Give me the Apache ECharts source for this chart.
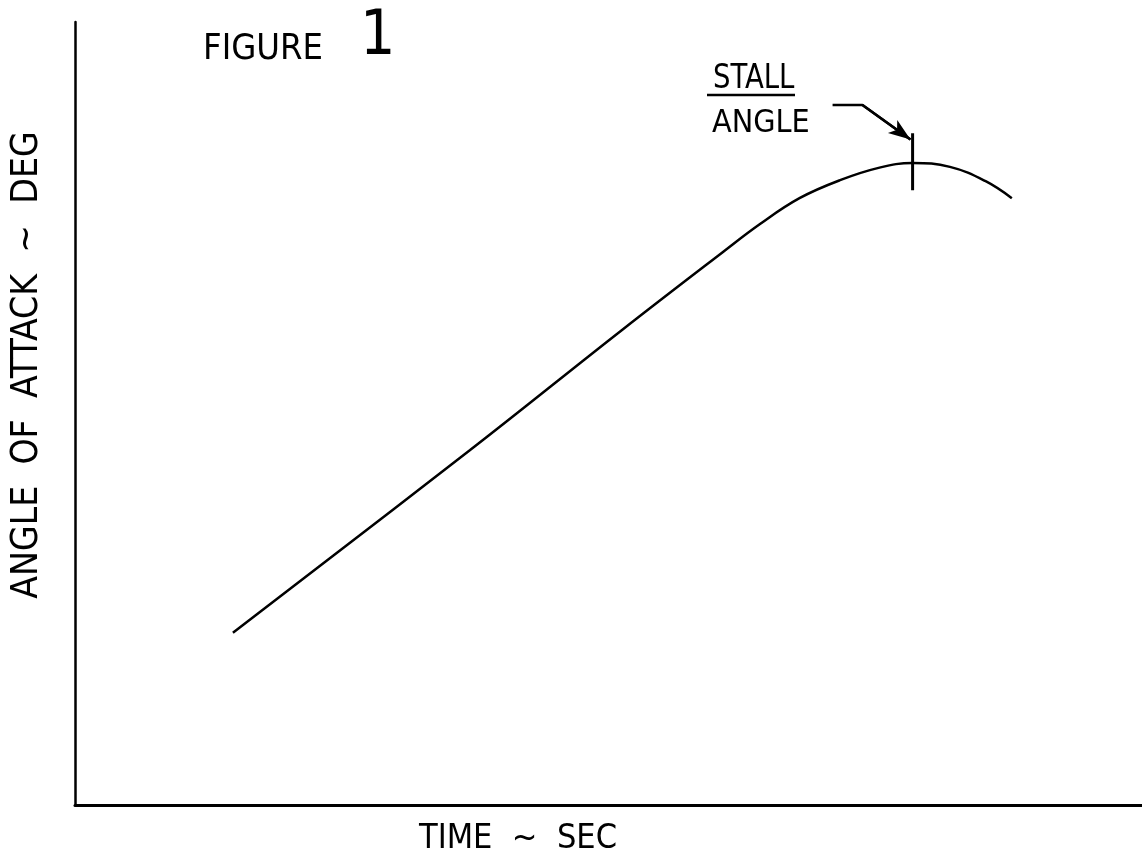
<!DOCTYPE html>
<html>
<head>
<meta charset="utf-8">
<title>Figure 1</title>
<script src="https://cdn.jsdelivr.net/npm/echarts@6/dist/echarts.min.js"></script>
<style>
  html, body { margin: 0; padding: 0; background: #fff; }
  #chart { width: 1142px; height: 855px; }
</style>
</head>
<body>
<div id="chart"></div>
<script>
// curve (time, angle) in arbitrary units 0..100
var timeSec = [14.8, 37.0, 51.3, 60.7, 64.2, 67.9, 71.7, 75.4, 78.5, 82.0, 85.3, 87.8];
var angleDeg = [22.0, 45.3, 60.7, 70.6, 74.2, 77.5, 79.8, 81.4, 82.0, 81.5, 79.7, 77.5];

// stall angle marker + pointer
var stallTime = 78.5;
var stallTick = [78.5, 85.8];
var pointerTime = [71.0, 73.8, 78.3];
var pointerAngle = [89.4, 89.4, 85.0];

var font = '"DejaVu Sans Condensed", "DejaVu Sans", sans-serif';

function pairs(xs, ys) {
    return xs.map(function (x, i) { return [x, ys[i]]; });
}

var chart = echarts.init(document.getElementById('chart'));

chart.setOption({
    backgroundColor: '#fff',
    animation: false,
    grid: { left: 75, right: 0, top: 22, bottom: 50 },
    xAxis: {
        type: 'value', min: 0, max: 100,
        axisLine: { show: true, lineStyle: { color: '#000', width: 3 } },
        axisTick: { show: false }, axisLabel: { show: false }, splitLine: { show: false }
    },
    yAxis: {
        type: 'value', min: 0, max: 100,
        axisLine: { show: true, lineStyle: { color: '#000', width: 2.5 } },
        axisTick: { show: false }, axisLabel: { show: false }, splitLine: { show: false }
    },
    series: [
        {
            name: 'angle',
            type: 'line',
            smooth: 0.4,
            showSymbol: false,
            data: pairs(timeSec, angleDeg),
            lineStyle: { color: '#000', width: 2.5 }
        },
        {
            name: 'stall tick',
            type: 'line',
            showSymbol: false,
            data: [[stallTime, stallTick[0]], [stallTime, stallTick[1]]],
            lineStyle: { color: '#000', width: 3 }
        },
        {
            name: 'pointer',
            type: 'line',
            showSymbol: false,
            data: pairs(pointerTime, pointerAngle),
            lineStyle: { color: '#000', width: 2.5 },
            markLine: {
                silent: true,
                symbol: ['none', 'arrow'],
                symbolSize: [12, 22],
                label: { show: false },
                lineStyle: { color: '#000', width: 2.5, type: 'solid' },
                data: [[
                    { coord: [pointerTime[1], pointerAngle[1]] },
                    { coord: [pointerTime[2], pointerAngle[2]] }
                ]]
            }
        }
    ],
    graphic: [
        { type: 'text', x: 203, y: 50, style: { text: 'FIGURE', font: '36px ' + font, fill: '#000', textVerticalAlign: 'middle' } },
        { type: 'text', x: 360, y: 38, style: { text: '1', font: '62px ' + font, fill: '#000', textVerticalAlign: 'middle' } },
        { type: 'text', x: 713, y: 79, scaleX: 0.9, style: { text: 'STALL', font: '34px ' + font, fill: '#000', textVerticalAlign: 'middle' } },
        { type: 'line', shape: { x1: 707, y1: 95, x2: 795, y2: 95 }, style: { stroke: '#000', lineWidth: 2.5 } },
        { type: 'text', x: 712, y: 124, style: { text: 'ANGLE', font: '32px ' + font, fill: '#000', textVerticalAlign: 'middle' } },
        { type: 'text', x: 518, y: 839, style: { text: 'TIME  ~  SEC', font: '34px ' + font, fill: '#000', textAlign: 'center', textVerticalAlign: 'middle' } },
        { type: 'text', x: 27, y: 365, rotation: Math.PI / 2,
          style: { text: 'ANGLE  OF  ATTACK  ~  DEG', font: '37px ' + font, fill: '#000', textAlign: 'center', textVerticalAlign: 'middle' } }
    ]
});
</script>
</body>
</html>
